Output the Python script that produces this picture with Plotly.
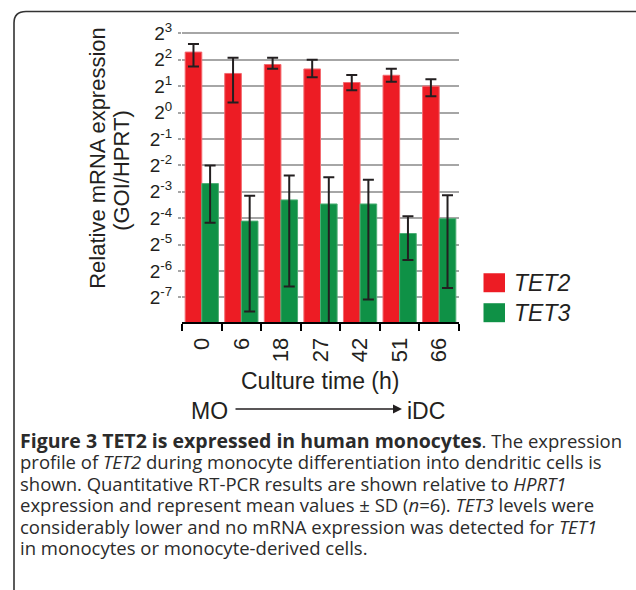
import plotly.graph_objects as go

W, H = 636, 590

# ---- data ----
categories = ["0", "6", "18", "27", "42", "51", "66"]
tet2_mean = [4.89, 2.79, 3.53, 3.14, 2.20, 2.66, 2.00]
tet2_err_plus = [1.17, 1.41, 0.67, 0.86, 0.48, 0.50, 0.39]
tet2_err_minus = [1.55, 1.49, 0.37, 0.61, 0.41, 0.41, 0.47]
tet3_mean = [0.155, 0.0579, 0.101, 0.0908, 0.0908, 0.0418, 0.0617]
tet3_err_plus = [0.095, 0.0548, 0.091, 0.092, 0.081, 0.0242, 0.0523]
tet3_err_minus = [0.0994, 0.0525, 0.0906, 0.0905, 0.0834, 0.021, 0.0517]
y_tick_exponents = [3, 2, 1, 0, -1, -2, -3, -4, -5, -6, -7]

caption_lines = [
    "<b><span style='font-size:19.5px'>Figure 3 TET2 is expressed in human monocytes</span></b>. The expression",
    "profile of <i>TET2</i> during monocyte differentiation into dendritic cells is",
    "shown. Quantitative RT-PCR results are shown relative to <i>HPRT1</i>",
    "expression and represent mean values ± SD (<i>n</i>=6). <i>TET3</i> levels were",
    "considerably lower and no mRNA expression was detected for <i>TET1</i>",
    "in monocytes or monocyte-derived cells.",
]

RED = "#ED1C24"
GREEN = "#0F9146"
TXT = "#231F20"
CHART_FONT = "Liberation Sans, Arial, sans-serif"
CAP_FONT = "Open Sans, sans-serif"

# plot area in page pixels
L, R_, T, B = 182, 459, 32, 322.3


def px(x):
    return (x - L) / (R_ - L)


def py(y):
    return (B - y) / (B - T)


fig = go.Figure()
fig.add_trace(go.Bar(
    x=categories, y=tet2_mean, name="TET2",
    marker=dict(color=RED, line=dict(color="#F36A70", width=1)),
    error_y=dict(type="data", symmetric=False, array=tet2_err_plus,
                 arrayminus=tet2_err_minus, color=TXT, thickness=2, width=5.5),
))
fig.add_trace(go.Bar(
    x=categories, y=tet3_mean, name="TET3",
    marker=dict(color=GREEN, line=dict(color="#4DAE74", width=1)),
    error_y=dict(type="data", symmetric=False, array=tet3_err_plus,
                 arrayminus=tet3_err_minus, color=TXT, thickness=2, width=5.5),
))

fig.update_layout(
    width=W, height=H,
    margin=dict(l=L, r=W - R_, t=T, b=H - B, autoexpand=False),
    paper_bgcolor="white", plot_bgcolor="white",
    barmode="group", bargap=0.16, bargroupgap=0.0,
    showlegend=False,
    font=dict(family=CHART_FONT, color=TXT),
)
fig.update_yaxes(
    type="log",
    range=[-7.93 * 0.30103, 3.05 * 0.30103],
    tickvals=[2.0 ** e for e in y_tick_exponents],
    ticktext=[f"2<sup>{e}</sup>" for e in y_tick_exponents],
    tickfont=dict(size=19, color=TXT),
    showgrid=True, gridcolor="#A6A6A6", gridwidth=1.5,
    ticks="outside", ticklen=3, tickcolor="#A6A6A6", tickwidth=1.5,
    ticklabelstandoff=2,
    showline=False, zeroline=False,
)
fig.update_xaxes(
    type="category",
    tickangle=-90,
    tickfont=dict(size=22, color=TXT),
    showline=True, linecolor="black", linewidth=2,
    ticks="outside", tickson="boundaries", ticklen=7, tickwidth=2, tickcolor="black",
    ticklabelstandoff=5,
    showgrid=False,
)

ann = []
# y axis title (two lines)
ann.append(dict(x=px(98), y=py(158), xref="paper", yref="paper", text="Relative mRNA expression",
                textangle=-90, showarrow=False, xanchor="center", yanchor="middle",
                font=dict(size=22, color=TXT, family=CHART_FONT)))
ann.append(dict(x=px(122), y=py(171), xref="paper", yref="paper", text="(GOI/HPRT)",
                textangle=-90, showarrow=False, xanchor="center", yanchor="middle",
                font=dict(size=22, color=TXT, family=CHART_FONT)))
# x axis title
ann.append(dict(x=px(320), y=py(381), xref="paper", yref="paper", text="Culture time (h)",
                showarrow=False, xanchor="center", yanchor="middle",
                font=dict(size=23, color=TXT, family=CHART_FONT)))
# MO -> iDC
ann.append(dict(x=px(230), y=py(411.5), xref="paper", yref="paper", text="MO",
                showarrow=False, xanchor="right", yanchor="middle",
                font=dict(size=23, color=TXT, family=CHART_FONT)))
ann.append(dict(x=px(405), y=py(411.5), xref="paper", yref="paper", text="iDC",
                showarrow=False, xanchor="left", yanchor="middle",
                font=dict(size=23, color=TXT, family=CHART_FONT)))
ann.append(dict(x=px(402), y=py(409.5), xref="paper", yref="paper",
                ax=-168, ay=0, axref="pixel", ayref="pixel",
                text="", showarrow=True, arrowhead=2, arrowsize=1.2, arrowwidth=1.5,
                arrowcolor=TXT))
# legend
ann.append(dict(x=px(512), y=py(283), xref="paper", yref="paper", text="<i>TET2</i>",
                showarrow=False, xanchor="left", yanchor="middle",
                font=dict(size=23, color=TXT, family=CHART_FONT)))
ann.append(dict(x=px(512), y=py(313), xref="paper", yref="paper", text="<i>TET3</i>",
                showarrow=False, xanchor="left", yanchor="middle",
                font=dict(size=23, color=TXT, family=CHART_FONT)))
# caption
for i, line in enumerate(caption_lines):
    ann.append(dict(x=px(18), y=py(441 + 21.4 * i), xref="paper", yref="paper", text=line,
                    showarrow=False, xanchor="left", yanchor="middle", align="left",
                    font=dict(size=18.5, color="#2B2B2B", family=CAP_FONT)))
fig.update_layout(annotations=ann)

shapes = []
shapes.append(dict(type="rect", xref="paper", yref="paper",
                   x0=px(483.5), x1=px(505), y0=py(273.5), y1=py(292.5),
                   fillcolor=RED, line=dict(width=0)))
shapes.append(dict(type="rect", xref="paper", yref="paper",
                   x0=px(483.5), x1=px(505), y0=py(303.5), y1=py(322.5),
                   fillcolor=GREEN, line=dict(width=0)))
# rounded frame (top-left corner)
path = (f"M {px(14)},{py(600)} L {px(14)},{py(23)} "
        f"Q {px(14)},{py(11.5)} {px(26)},{py(11.5)} L {px(650)},{py(11.5)}")
shapes.append(dict(type="path", xref="paper", yref="paper", path=path,
                   line=dict(color="#333333", width=1.6)))
fig.update_layout(shapes=shapes)

fig.write_html("out.html", config={"displayModeBar": False},
               post_script="document.body.style.margin='0';document.body.style.overflow='hidden';")
